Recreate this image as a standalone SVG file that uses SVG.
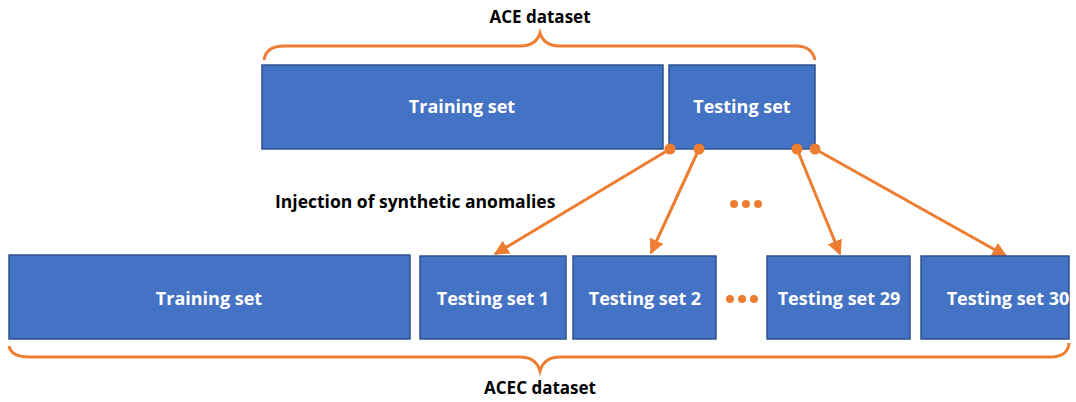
<svg xmlns="http://www.w3.org/2000/svg" width="1076" height="402" viewBox="0 0 1076 402">
<style>
.box{fill:#4472C4;stroke:#2F528F;stroke-width:1.5}
.lbl{font-family:"Open Sans","Liberation Sans",sans-serif;font-weight:bold;font-size:18px;fill:#fff;text-anchor:middle}
.title{font-family:"Open Sans","Liberation Sans",sans-serif;font-weight:bold;font-size:17px;fill:#000}
.brace{fill:none;stroke:#ED7D31;stroke-width:3}
.conn{stroke:#ED7D31;stroke-width:3;fill:none}
.dot{fill:#ED7D31}
</style>
<defs>
<marker id="ah" viewBox="0 0 10 10" refX="9" refY="5" markerWidth="5" markerHeight="5" markerUnits="strokeWidth" orient="auto">
<path d="M0,0 L10,5 L0,10 z" fill="#ED7D31"/>
</marker>
</defs>
<rect width="1076" height="402" fill="#fff"/>
<text class="title" x="540" y="23" text-anchor="middle">ACE dataset</text>
<path class="brace" d="M264,60 Q266,46 284,46 L520,46 Q536,46 540,33 Q544,46 560,46 L796,46 Q812,46 815,60"/>
<g id="top-training"><rect class="box" x="262" y="65" width="401" height="84"/><text class="lbl" x="462" y="113">Training set</text></g>
<g id="top-testing"><rect class="box" x="669" y="65" width="146" height="84"/><text class="lbl" x="742" y="113">Testing set</text></g>
<text class="title" x="275" y="208" style="font-size:17.5px">Injection of synthetic anomalies</text>
<g id="dots-top"><circle class="dot" cx="734" cy="204" r="4"/><circle class="dot" cx="746" cy="204" r="4"/><circle class="dot" cx="758" cy="204" r="4"/></g>
<g id="connectors">
<circle class="dot" cx="670" cy="149" r="5.5"/><circle class="dot" cx="699" cy="149" r="5.5"/><circle class="dot" cx="797" cy="149" r="5.5"/><circle class="dot" cx="815" cy="149" r="5.5"/>
<line class="conn" x1="670" y1="149" x2="495" y2="254" marker-end="url(#ah)"/>
<line class="conn" x1="699" y1="149" x2="651" y2="253" marker-end="url(#ah)"/>
<line class="conn" x1="797" y1="149" x2="840" y2="254" marker-end="url(#ah)"/>
<line class="conn" x1="815" y1="149" x2="1006" y2="256" marker-end="url(#ah)"/>
</g>
<g id="bot-training"><rect class="box" x="9" y="255" width="401" height="84"/><text class="lbl" x="209" y="305">Training set</text></g>
<g id="ts1"><rect class="box" x="420" y="256" width="146" height="83"/><text class="lbl" x="493" y="305">Testing set 1</text></g>
<g id="ts2"><rect class="box" x="573" y="256" width="143" height="83"/><text class="lbl" x="645" y="305">Testing set 2</text></g>
<g id="dots-bot"><circle class="dot" cx="730" cy="299" r="4"/><circle class="dot" cx="742" cy="299" r="4"/><circle class="dot" cx="754" cy="299" r="4"/></g>
<g id="ts29"><rect class="box" x="767" y="256" width="143" height="83"/><text class="lbl" x="839" y="305">Testing set 29</text></g>
<g id="ts30"><rect class="box" x="921" y="256" width="148" height="83"/><text class="lbl" x="1008" y="305">Testing set 30</text></g>
<path class="brace" d="M9,346 Q11,357 30,357 L520,357 Q536,357 540,371 Q544,357 560,357 L1050,357 Q1068,357 1069,343"/>
<text class="title" x="540" y="394" text-anchor="middle">ACEC dataset</text>
</svg>
